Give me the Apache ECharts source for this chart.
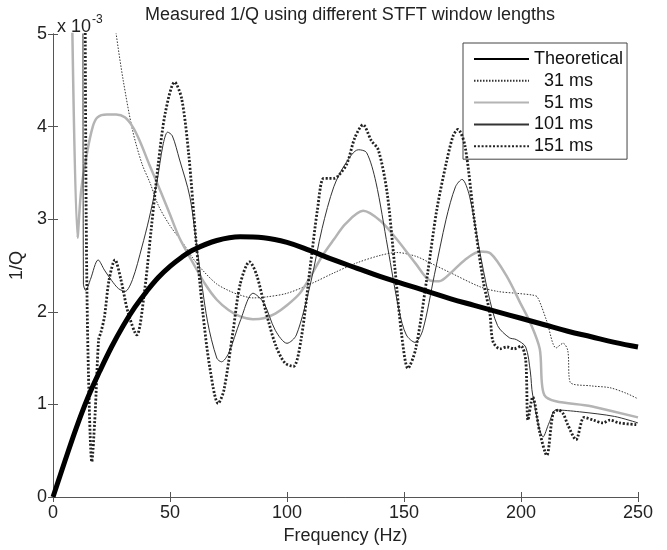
<!DOCTYPE html>
<html>
<head>
<meta charset="utf-8">
<script src="https://cdn.jsdelivr.net/npm/echarts@6/dist/echarts.min.js"></script>
<style>
  html, body { margin: 0; padding: 0; background: #fff; }
  #chart { width: 667px; height: 550px; }
</style>
</head>
<body>
<div id="chart"></div>
<script>
// values are in units of 1e-3
var theoFreq = [0, 5, 10, 15, 20, 25, 30, 35, 40, 45, 50, 55, 60, 70, 80, 90, 100, 110, 120, 130, 140, 150, 160, 170, 180, 190, 200, 210, 220, 230, 240, 250];
var theoVal  = [0, 0.38, 0.75, 1.08, 1.36, 1.62, 1.85, 2.05, 2.22, 2.37, 2.49, 2.59, 2.67, 2.77, 2.81, 2.8, 2.75, 2.66, 2.56, 2.47, 2.38, 2.3, 2.22, 2.14, 2.07, 2.0, 1.93, 1.86, 1.79, 1.73, 1.67, 1.62];

var f31 = [25, 27, 30, 34, 38, 41.5, 45, 50, 55.6, 60, 65, 70, 75, 80, 85.5, 91, 100, 110, 120, 130, 140, 147, 155, 161, 170, 182.5, 190, 198, 205, 207, 211, 215, 218, 220, 221, 230, 238, 245, 250];
var v31 = [5.4, 5.0, 4.5, 3.96, 3.6, 3.39, 3.15, 2.93, 2.74, 2.57, 2.42, 2.3, 2.23, 2.18, 2.15, 2.16, 2.2, 2.3, 2.42, 2.53, 2.61, 2.64, 2.6, 2.53, 2.42, 2.27, 2.22, 2.2, 2.18, 2.16, 1.9, 1.61, 1.66, 1.58, 1.24, 1.2, 1.18, 1.12, 1.06];

var f51 = [8, 10.5, 12, 14.5, 17, 19, 23, 27, 30.7, 34, 37, 41, 46, 50, 54, 60, 65, 70, 75, 80, 85.5, 90, 95, 100, 105.5, 110, 115, 120, 125, 132.5, 140, 147, 155, 161, 165, 170, 176, 182.5, 187, 194, 200, 204, 208, 210, 230, 250];
var v51 = [5.5, 2.8, 3.3, 3.71, 4.0, 4.1, 4.13, 4.13, 4.1, 4.0, 3.85, 3.6, 3.3, 3.05, 2.8, 2.52, 2.3, 2.13, 2.02, 1.95, 1.92, 1.93, 1.98, 2.07, 2.2, 2.38, 2.6, 2.78, 2.95, 3.09, 2.98, 2.78, 2.52, 2.34, 2.33, 2.42, 2.56, 2.65, 2.63, 2.38, 2.08, 1.88, 1.6, 1.1, 0.98, 0.86];

var f101 = [12.8, 13, 14, 16, 19.3, 22, 25, 28, 30.8, 34, 38, 41, 44.4, 47, 49, 51, 54, 58.5, 62, 66, 70, 72, 75, 80, 85.5, 90, 95, 100, 104, 110, 115, 120, 125, 130.5, 134, 138, 143, 148, 151, 154.7, 158, 163, 168, 172, 174.8, 178, 182, 186, 190, 195, 198, 202, 204, 205, 209.5, 212, 215, 225, 240, 250];
var v101 = [5.5, 2.3, 2.23, 2.35, 2.56, 2.45, 2.34, 2.25, 2.22, 2.35, 2.7, 3.0, 3.4, 3.8, 3.94, 3.9, 3.65, 3.24, 2.6, 1.9, 1.5, 1.46, 1.55, 1.9, 2.2, 2.1, 1.8, 1.66, 1.75, 2.3, 2.9, 3.35, 3.6, 3.75, 3.72, 3.4, 2.7, 2.0, 1.75, 1.67, 1.8, 2.4, 3.0, 3.35, 3.43, 3.25, 2.7, 2.2, 1.85, 1.72, 1.7, 1.62, 1.35, 1.1, 0.65, 0.8, 0.94, 0.92, 0.87, 0.8];

var f151 = [13.7, 14.2, 15, 16.6, 18, 19.5, 20.5, 22, 24, 26.5, 29, 32, 35.8, 39, 42, 45, 48, 52, 55, 58, 61, 64, 67, 70.6, 73, 77, 80, 84, 87, 91, 95, 99, 102.7, 106, 110, 113, 115.6, 118, 120, 122, 125.6, 129, 132.5, 136, 139, 142.7, 146, 149, 151.7, 155, 160, 164, 168, 171, 173, 176, 180, 183.8, 186.7, 188, 191, 194, 197, 200, 202, 203, 205, 208, 211, 213.7, 216, 218, 220, 223.5, 227, 231, 235, 238, 242, 250];
var v151 = [5.5, 3.0, 1.5, 0.38, 0.9, 1.7, 1.78, 1.95, 2.35, 2.56, 2.35, 2.0, 1.75, 2.2, 2.9, 3.6, 4.15, 4.48, 4.3, 3.7, 2.8, 2.0, 1.4, 1.01, 1.15, 1.8, 2.3, 2.54, 2.4, 2.0, 1.65, 1.45, 1.41, 1.7, 2.5, 3.1, 3.44, 3.44, 3.44, 3.47, 3.6, 3.88, 4.02, 3.85, 3.75, 3.3, 2.5, 1.75, 1.39, 1.6, 2.4, 3.1, 3.6, 3.9, 3.97, 3.8, 3.0, 2.34, 1.98, 1.68, 1.6, 1.62, 1.6, 1.63, 1.48, 0.83, 1.08, 0.7, 0.45, 0.9, 0.94, 0.9, 0.78, 0.62, 0.86, 0.83, 0.8, 0.83, 0.8, 0.78];

var xTicks = [0, 50, 100, 150, 200, 250];
var yTicks = [0, 1, 2, 3, 4, 5];

function pairs(xs, ys) {
  var out = [];
  for (var i = 0; i < xs.length; i++) out.push([xs[i], ys[i]]);
  return out;
}

var font = "'Liberation Sans', Arial, sans-serif";
var axisColor = '#555';
var txt = '#222';

var chart = echarts.init(document.getElementById('chart'));

var baseX = {
  type: 'value', min: 0, max: 250, interval: 50,
  axisLine: { show: true, lineStyle: { color: axisColor, width: 1 } },
  axisTick: { show: true, inside: true, length: 5, lineStyle: { color: axisColor } },
  splitLine: { show: false }
};
var baseY = {
  type: 'value', min: 0, max: 5, interval: 1,
  axisLine: { show: true, lineStyle: { color: axisColor, width: 1 } },
  axisTick: { show: true, inside: true, length: 5, lineStyle: { color: axisColor } },
  splitLine: { show: false }
};

var option = {
  animation: false,
  backgroundColor: '#fff',
  textStyle: { fontFamily: font },
  title: [{
    text: 'Measured 1/Q using different STFT window lengths',
    left: 345, top: 1, textAlign: 'center',
    textStyle: { fontSize: 18, fontWeight: 'normal', color: txt, fontFamily: font }
  }, {
    text: '{a|x 10}{b|-3}',
    left: 52, top: 9,
    textStyle: {
      fontWeight: 'normal',
      rich: {
        a: { fontSize: 18, color: txt, fontFamily: font, fontWeight: 'normal', verticalAlign: 'bottom' },
        b: { fontSize: 12, color: txt, fontFamily: font, fontWeight: 'normal', verticalAlign: 'top', padding: [0, 0, 10, 1] }
      }
    }
  }],
  grid: { left: 53, right: 29, top: 34, bottom: 53 },
  legend: {
    orient: 'vertical',
    left: 463, top: 43,
    padding: [7, 4, 4, 10],
    itemWidth: 55, itemHeight: 15, itemGap: 3.8,
    borderColor: '#444', borderWidth: 1,
    backgroundColor: '#fff',
    itemStyle: { opacity: 0 },
    textStyle: { fontSize: 18, color: '#111', fontFamily: font },
    data: ['Theoretical', '  31 ms', '  51 ms', '101 ms', '151 ms']
  },
  xAxis: [
    Object.assign({}, baseX, {
      position: 'bottom',
      name: 'Frequency (Hz)', nameLocation: 'middle', nameGap: 28,
      nameTextStyle: { fontSize: 18, color: txt, fontFamily: font },
      axisLabel: { fontSize: 18, color: txt, margin: 7, fontFamily: font,
        formatter: function (v) { return xTicks.indexOf(v) >= 0 ? String(v) : ''; } }
    }),
    Object.assign({}, baseX, { position: 'top', axisLabel: { show: false } })
  ],
  yAxis: [
    Object.assign({}, baseY, {
      position: 'left',
      name: '1/Q', nameLocation: 'middle', nameGap: 27,
      nameTextStyle: { fontSize: 18, color: txt, fontFamily: font },
      axisLabel: { fontSize: 18, color: txt, margin: 6, fontFamily: font,
        formatter: function (v) { return yTicks.indexOf(v) >= 0 ? String(v) : ''; } }
    }),
    Object.assign({}, baseY, { position: 'right', axisLabel: { show: false } })
  ],
  series: [{
    name: '  31 ms', type: 'line', data: pairs(f31, v31), smooth: 0.3, showSymbol: false,
    itemStyle: { color: '#333' },
    lineStyle: { color: '#333', width: 1, type: [1.5, 1.5] }, clip: true, z: 2
  }, {
    name: '  51 ms', type: 'line', data: pairs(f51, v51), smooth: 0.3, showSymbol: false,
    itemStyle: { color: '#b4b4b4' },
    lineStyle: { color: '#b4b4b4', width: 2.5 }, clip: true, z: 2
  }, {
    name: '101 ms', type: 'line', data: pairs(f101, v101), smooth: 0.3, showSymbol: false,
    itemStyle: { color: '#333' },
    lineStyle: { color: '#333', width: 1 }, clip: true, z: 3
  }, {
    name: '151 ms', type: 'line', data: pairs(f151, v151), smooth: 0.3, showSymbol: false,
    itemStyle: { color: '#222' },
    lineStyle: { color: '#222', width: 2.8, type: [2, 1.8] }, clip: true, z: 4
  }, {
    name: 'Theoretical', type: 'line', data: pairs(theoFreq, theoVal), smooth: 0.4, showSymbol: false,
    itemStyle: { color: '#000' },
    lineStyle: { color: '#000', width: 5 }, clip: true, z: 5
  }]
};

chart.setOption(option);
</script>
</body>
</html>
